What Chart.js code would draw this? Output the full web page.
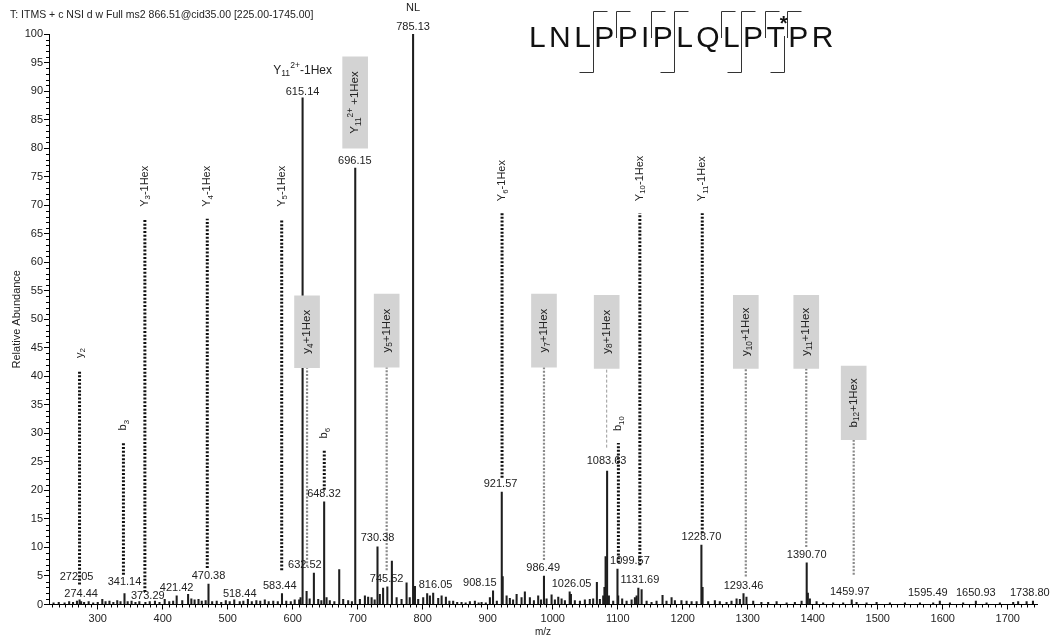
<!DOCTYPE html>
<html>
<head>
<meta charset="utf-8">
<script src="https://cdn.jsdelivr.net/npm/chart.js@4/dist/chart.umd.min.js"></script>
<style>
  html, body { margin: 0; background: #fff; }
</style>
</head>
<body>
<canvas id="spec" width="1050" height="642"></canvas>
<script>
// axis ticks
const xTicks = [300, 400, 500, 600, 700, 800, 900, 1000, 1100, 1200, 1300, 1400, 1500, 1600, 1700];
const yTicks = [0, 5, 10, 15, 20, 25, 30, 35, 40, 45, 50, 55, 60, 65, 70, 75, 80, 85, 90, 95, 100];

// centroid peaks (m/z, relative abundance)
const peakMz = [232, 240, 249, 256, 262, 268, 272.05, 274.44, 279, 286, 293, 300, 307, 312, 318, 324, 330, 335, 341.14, 346,
  352, 358, 364, 373.29, 380, 388, 395, 403, 410, 416, 421.42, 430, 439, 444, 449, 455, 460, 466, 470.38, 476,
  483, 490, 497, 503, 510, 518.44, 524, 531, 537, 544, 550, 557, 563, 570, 577, 583.44, 590, 597, 603, 609.9,
  612, 615.14, 621.3, 626, 632.52, 639.2, 644, 648.32, 652, 657, 664, 671.5, 677.6, 685.3, 691, 696.15, 703.3, 711, 716, 721.3,
  726, 730.38, 734, 739, 745.52, 752.5, 759.8, 767.4, 775.1, 780, 785.13, 788, 793, 800.7, 806.8, 811, 816.05, 823.8, 829, 835.6,
  841, 846.8, 853, 859.7, 866, 872.5, 880.2, 886, 890.5, 897, 903.3, 908.15, 914, 921.57, 923, 929, 934, 939, 944.4, 952,
  957.1, 964.8, 971, 977.6, 982, 986.49, 990.5, 998.2, 1003.3, 1008.5, 1013.6, 1018.7, 1026.05, 1028, 1034, 1041.8, 1049.4, 1057, 1062.2, 1067.9,
  1072.5, 1077.6, 1079.5, 1081.3, 1083.63, 1086.4, 1093, 1099.57, 1100.7, 1106.8, 1113.6, 1121.3, 1126.4, 1129, 1131.69, 1136.7, 1144.4, 1152, 1159.7, 1168.9,
  1175, 1182.8, 1187.9, 1198, 1205.9, 1213.6, 1221.3, 1228.70, 1230.5, 1239.1, 1249.4, 1257, 1267.4, 1275, 1282.8, 1287.9, 1293.46, 1298, 1308.4, 1321,
  1331.4, 1344.4, 1359.8, 1372.5, 1382.8, 1390.70, 1392.5, 1395.6, 1405.9, 1416, 1431.4, 1446.8, 1459.97, 1467.4, 1482.8, 1498.2, 1518.7, 1541.8, 1564.9, 1585.3,
  1595.49, 1611, 1631.4, 1650.93, 1667.4, 1687.9, 1708.4, 1716, 1729, 1738.80];
const peakInt = [0.3, 0.4, 0.3, 0.5, 0.4, 0.6, 0.8, 0.5, 0.4, 0.5, 0.3, 0.4, 0.9, 0.5, 0.6, 0.4, 0.7, 0.5, 1.9, 0.5,
  0.6, 0.4, 0.5, 0.4, 0.5, 0.6, 0.4, 0.9, 0.5, 0.6, 1.5, 0.7, 1.8, 1.0, 0.8, 0.9, 0.6, 0.7, 3.6, 0.5,
  0.6, 0.4, 0.7, 0.5, 0.8, 0.5, 0.6, 0.9, 0.5, 0.7, 0.6, 0.8, 0.5, 0.6, 0.5, 1.9, 0.6, 0.5, 0.8, 0.8,
  1.2, 88.8, 2.3, 1.0, 5.5, 0.9, 0.7, 18.0, 1.2, 0.7, 0.5, 6.1, 0.9, 0.7, 0.5, 76.5, 0.9, 1.5, 1.3, 1.2,
  0.8, 10.1, 1.8, 2.9, 3.1, 7.6, 1.2, 0.9, 3.8, 1.2, 100, 3.2, 0.9, 1.2, 1.9, 1.5, 2.0, 1.1, 1.5, 1.3,
  0.6, 0.6, 0.4, 0.4, 0.3, 0.5, 0.6, 0.3, 0.4, 0.3, 1.2, 2.4, 0.6, 19.7, 4.9, 1.5, 1.1, 0.8, 1.8, 1.2,
  2.2, 1.2, 0.7, 1.5, 0.8, 5.0, 1.0, 1.7, 0.8, 1.3, 1.0, 0.7, 2.2, 1.8, 0.7, 0.6, 0.8, 0.9, 1.0, 3.9,
  0.9, 1.5, 3.0, 8.4, 23.4, 1.5, 0.6, 6.2, 1.5, 1.0, 0.6, 0.8, 1.2, 1.5, 2.9, 2.6, 0.6, 0.4, 0.6, 1.6,
  0.6, 1.2, 0.7, 0.7, 0.6, 0.5, 0.5, 10.4, 3.0, 0.5, 0.7, 0.5, 0.4, 0.6, 1.0, 0.9, 1.9, 1.3, 0.6, 0.4,
  0.4, 0.5, 0.3, 0.4, 0.6, 7.3, 2.0, 1.0, 0.5, 0.3, 0.3, 0.3, 0.8, 0.4, 0.3, 0.4, 0.3, 0.3, 0.3, 0.3,
  0.6, 0.3, 0.3, 0.6, 0.3, 0.3, 0.4, 0.5, 0.5, 0.6];

// peak labels: text, m/z where the label is centred, abundance where it sits
const labelText = ['272.05', '274.44', '341.14', '373.29', '421.42', '470.38', '518.44', '583.44', '615.14', '632.52',
  '648.32', '696.15', '730.38', '745.52', '785.13', '816.05', '908.15', '921.57', '986.49', '1026.05',
  '1083.63', '1099.57', '1131.69', '1228.70', '1293.46', '1390.70', '1459.97', '1595.49', '1650.93', '1738.80'];
const labelMz = [267.4, 274.4, 341.1, 377, 421.4, 470.4, 518.4, 580, 615.1, 618.7,
  648, 695.6, 730.5, 744.4, 785.1, 819.7, 887.9, 919.7, 985.3, 1029,
  1082.8, 1118.7, 1134, 1228.7, 1293.5, 1390.7, 1457, 1577, 1650.9, 1734];
const labelAt = [4.8, 1.8, 4.0, 1.5, 2.9, 5.0, 1.8, 3.2, 89.9, 6.9,
  19.4, 77.8, 11.6, 4.5, 101.3, 3.4, 3.8, 21.2, 6.4, 3.6,
  25.2, 7.6, 4.3, 11.9, 3.2, 8.7, 2.2, 2.0, 2.0, 2.0];

// b / y and Y-1Hex fragment assignments (black dotted)
const fragName = ['y_{2}', 'b_{3}', 'Y_{3}-1Hex', 'Y_{4}-1Hex', 'Y_{5}-1Hex', 'b_{6}', 'Y_{6}-1Hex', 'b_{10}', 'Y_{10}-1Hex', 'Y_{11}-1Hex'];
const fragMz = [272, 339.5, 372.5, 468.5, 583, 648.5, 922, 1101, 1134, 1230];
const fragLo = [3.5, 5.2, 2.2, 6.4, 6.0, 20.1, 22.2, 7.3, 6.9, 12.5];
const fragHi = [41.1, 28.4, 67.6, 67.6, 67.6, 27.0, 68.6, 28.3, 68.6, 68.6];

// +1Hex assignments (grey boxes, grey dotted)
const hexName = ['y_{4}+1Hex', 'Y_{11}^{2+} +1Hex', 'y_{5}+1Hex', 'y_{7}+1Hex', 'y_{8}+1Hex', 'y_{10}+1Hex', 'y_{11}+1Hex', 'b_{12}+1Hex'];
const hexMz = [622, 696, 744.5, 986.5, 1083, 1297, 1390, 1463];
const hexLineLo = [6.6, null, 6.0, 7.8, 27.5, 4.9, 10.1, 5.2];
const hexBoxLo = [41.5, 80.0, 41.6, 41.6, 41.4, 41.4, 41.4, 28.9];
const hexBoxHi = [54.1, 96.0, 54.4, 54.4, 54.2, 54.2, 54.2, 41.8];

const seq = 'LNLPPIPLQLPTPR';
const seqB = [3, 4, 6, 7, 9, 10, 11, 12];
const seqY = [3, 7, 10, 12];
const seqGlyco = 12;

const titleText = 'T: ITMS + c NSI d w Full ms2 866.51@cid35.00 [225.00-1745.00]';
const FONT = '"Liberation Sans", Arial, sans-serif';

Chart.defaults.font.family = FONT;
Chart.defaults.color = '#222';

function parseRich(s) {
  const parts = [];
  s.replace(/([_^])\{([^}]*)\}|([^_^]+)/g, (m, k, t, plain) => {
    parts.push(plain ? { t: plain, k: '' } : { t: t, k: k });
    return m;
  });
  return parts;
}
function richWidth(ctx, parts, size) {
  let w = 0;
  for (const p of parts) {
    ctx.font = (p.k ? size * 0.72 : size) + 'px ' + FONT;
    w += ctx.measureText(p.t).width;
  }
  return w;
}
function drawRich(ctx, parts, x0, y0, size) {
  ctx.textAlign = 'left';
  ctx.textBaseline = 'middle';
  let xx = x0;
  for (const p of parts) {
    ctx.font = (p.k ? size * 0.72 : size) + 'px ' + FONT;
    const dy = p.k === '_' ? size * 0.3 : (p.k === '^' ? -size * 0.38 : 0);
    ctx.fillText(p.t, xx, y0 + dy);
    xx += ctx.measureText(p.t).width;
  }
}

const decor = {
  id: 'decor',
  afterDraw(chart) {
    const { ctx, chartArea: a } = chart;
    const x = chart.scales.x, y = chart.scales.y;
    ctx.save();

    // minor ticks
    ctx.strokeStyle = '#000';
    ctx.lineWidth = 1;
    ctx.beginPath();
    for (let v = 1; v < 100; v++) {
      if (v % 5 === 0) continue;
      const py = Math.round(y.getPixelForValue(v)) + 0.5;
      ctx.moveTo(a.left - 3, py); ctx.lineTo(a.left, py);
    }
    for (let v = 230; v <= 1740; v += 10) {
      if (v % 100 === 0) continue;
      const px = Math.round(x.getPixelForValue(v)) + 0.5;
      ctx.moveTo(px, a.bottom); ctx.lineTo(px, a.bottom + 3);
    }
    ctx.stroke();

    // title
    ctx.fillStyle = '#222';
    ctx.font = '10.5px ' + FONT;
    ctx.textAlign = 'left';
    ctx.textBaseline = 'middle';
    ctx.fillText(titleText, 10, 15);

    // peak labels
    ctx.font = '11px ' + FONT;
    ctx.textAlign = 'center';
    labelText.forEach((t, i) => {
      ctx.fillText(t, x.getPixelForValue(labelMz[i]), y.getPixelForValue(labelAt[i]));
    });
    ctx.fillText('NL', x.getPixelForValue(785.13), y.getPixelForValue(104.6));
    const y11 = parseRich('Y_{11}^{2+}-1Hex');
    drawRich(ctx, y11, x.getPixelForValue(615.14) - richWidth(ctx, y11, 12) / 2, y.getPixelForValue(93.6), 12);

    // fragment names above the black dotted lines
    ctx.fillStyle = '#222';
    fragName.forEach((n, i) => {
      ctx.save();
      ctx.translate(x.getPixelForValue(fragMz[i]), y.getPixelForValue(fragHi[i]) - 12);
      ctx.rotate(-Math.PI / 2);
      drawRich(ctx, parseRich(n), 0, 0, 11);
      ctx.restore();
    });

    // names inside the grey boxes
    hexName.forEach((n, i) => {
      const parts = parseRich(n);
      const w = richWidth(ctx, parts, 11.5);
      ctx.save();
      ctx.translate(x.getPixelForValue(hexMz[i]),
        (y.getPixelForValue(hexBoxLo[i]) + y.getPixelForValue(hexBoxHi[i])) / 2);
      ctx.rotate(-Math.PI / 2);
      drawRich(ctx, parts, -w / 2, 0, 11.5);
      ctx.restore();
    });

    // peptide sequence with fragment brackets
    ctx.fillStyle = '#111';
    ctx.font = '30px ' + FONT;
    ctx.textAlign = 'left';
    ctx.textBaseline = 'alphabetic';
    const gap = 3.4;
    let cx = 529;
    const cuts = [];
    for (let i = 0; i < seq.length; i++) {
      ctx.fillText(seq[i], cx, 47);
      cx += ctx.measureText(seq[i]).width + gap;
      cuts.push(cx - gap / 2);
    }
    ctx.strokeStyle = '#333';
    ctx.lineWidth = 1;
    ctx.beginPath();
    seqB.forEach(k => {
      const bx = Math.round(cuts[k - 1]) + 0.5;
      ctx.moveTo(bx, 38); ctx.lineTo(bx, 11.5); ctx.lineTo(bx + 14, 11.5);
    });
    seqY.forEach(k => {
      const bx = Math.round(cuts[k - 1]) + 0.5 - (k === 12 ? 3 : 0);
      ctx.moveTo(bx, 36); ctx.lineTo(bx, 72.5); ctx.lineTo(bx - 14, 72.5);
    });
    ctx.stroke();
    ctx.font = 'bold 20px ' + FONT;
    ctx.textAlign = 'center';
    ctx.textBaseline = 'middle';
    ctx.fillText('*', cuts[seqGlyco - 1] - 3, 24);

    ctx.restore();
  }
};

const datasets = [];
datasets.push({
  type: 'bar',
  data: peakMz.map((m, i) => ({ x: m, y: peakInt[i] })),
  backgroundColor: '#1e1e1e',
  barThickness: 1.4,
  grouped: false,
  order: 5
});
fragMz.forEach((m, i) => {
  datasets.push({
    type: 'line',
    data: [{ x: m, y: fragLo[i] }, { x: m, y: fragHi[i] }],
    borderColor: '#111',
    borderWidth: 3,
    borderDash: [2, 1.7],
    pointRadius: 0,
    order: 2
  });
});
hexMz.forEach((m, i) => {
  if (hexLineLo[i] === null) return;
  const thin = hexName[i] === 'y_{8}+1Hex';
  datasets.push({
    type: 'line',
    data: [{ x: m, y: hexLineLo[i] }, { x: m, y: hexBoxLo[i] }],
    borderColor: thin ? '#999' : '#8a8a8a',
    borderWidth: thin ? 1 : 2.2,
    borderDash: thin ? [3, 2] : [2, 1.6],
    pointRadius: 0,
    order: 2
  });
});
datasets.push({
  type: 'bar',
  data: hexMz.map((m, i) => ({ x: m, y: [hexBoxLo[i], hexBoxHi[i]] })),
  backgroundColor: '#d3d3d3',
  barThickness: 25,
  grouped: false,
  order: 0
});

const chart = new Chart(document.getElementById('spec'), {
  type: 'bar',
  data: { datasets: datasets },
  options: {
    responsive: false,
    animation: false,
    layout: { padding: { top: 34, right: 13, left: 0, bottom: 0 } },
    plugins: { legend: { display: false }, tooltip: { enabled: false } },
    scales: {
      x: {
        type: 'linear',
        min: 225,
        max: 1745,
        offset: false,
        afterBuildTicks: s => { s.ticks = xTicks.map(v => ({ value: v })); },
        afterFit: s => { s.height = 37.5; },
        ticks: { autoSkip: false, maxRotation: 0, padding: 3, font: { size: 11 }, color: '#222', callback: v => String(v) },
        grid: { drawOnChartArea: false, tickLength: 5, color: '#000', offset: false },
        border: { color: '#000' },
        title: { display: true, text: 'm/z', font: { size: 10 }, padding: { top: 0, bottom: 4 }, color: '#222' }
      },
      y: {
        min: 0,
        max: 100,
        afterBuildTicks: s => { s.ticks = yTicks.map(v => ({ value: v })); },
        afterFit: s => { s.width = 49; },
        ticks: { autoSkip: false, padding: 1, font: { size: 11 }, color: '#222', callback: v => String(v) },
        grid: { drawOnChartArea: false, tickLength: 5, color: '#000' },
        border: { color: '#000' },
        title: { display: true, text: 'Relative Abundance', font: { size: 11 }, padding: { top: 10, bottom: 0 }, color: '#222' }
      }
    }
  },
  plugins: [decor]
});
</script>
</body>
</html>
